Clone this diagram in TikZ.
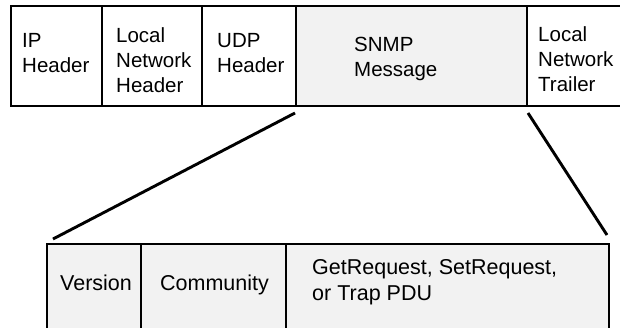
\documentclass[tikz,border=0pt]{standalone}
\usepackage{fontspec}
\setmainfont{Liberation Sans}
\usetikzlibrary{positioning}
\definecolor{pktgray}{HTML}{F2F2F2}

\begin{document}
\begin{tikzpicture}[x=1pt,y=-1pt,
	field/.style={draw,line width=2.9pt,outer sep=0pt,inner sep=0pt,minimum height=100pt},
	shaded/.style={field,fill=pktgray},
	txt/.style={inner sep=0pt,anchor=north west,align=left,font=\fontsize{20.5}{25}\selectfont},
	bigtxt/.style={txt,font=\fontsize{21.5}{26}\selectfont},
	link/.style={line width=2.9pt}]
	\useasboundingbox (0,0) rectangle (620,327);
	\clip (0,0) rectangle (620,327);
	% frame as sent on the wire
	\node [field,anchor=north west,minimum width=91pt] (ip) at (11,6) {};
	\node [field,right=0pt of ip,minimum width=100pt] (lnh) {};
	\node [field,right=0pt of lnh,minimum width=94pt] (udp) {};
	\node [shaded,right=0pt of udp,minimum width=231pt] (snmp) {};
	\node [field,right=0pt of snmp,minimum width=110pt] (lnt) {};
	\node [txt] (iptxt) at (22,33) {IP\\Header};
	\node [txt] (lnhtxt) at (116,27) {Local\\Network\\Header};
	\node [txt] (udptxt) at (217,33) {UDP\\Header};
	\node [txt] (snmptxt) at (354,37) {SNMP\\Message};
	\node [txt] (lnttxt) at (538,26) {Local\\Network\\Trailer};
	% the SNMP message opened up
	\node [shaded,anchor=north west,minimum width=94pt] (ver) at (47,244) {};
	\node [shaded,right=0pt of ver,minimum width=145pt] (comm) {};
	\node [shaded,right=0pt of comm,minimum width=323pt] (pdu) {};
	\node [bigtxt] (vertxt) at (60,275) {Version};
	\node [bigtxt] (commtxt) at (160,275) {Community};
	\node [bigtxt] (pdutxt) at (312,259) {GetRequest, SetRequest,\\or Trap PDU};
	\draw [link] ([shift={(-1,7)}]snmp.south west) -- ([shift={(6,-5)}]ver.north west);
	\draw [link] ([shift={(1,7)}]snmp.south east) -- ([shift={(-2,-9)}]pdu.north east);
\end{tikzpicture}
\end{document}
